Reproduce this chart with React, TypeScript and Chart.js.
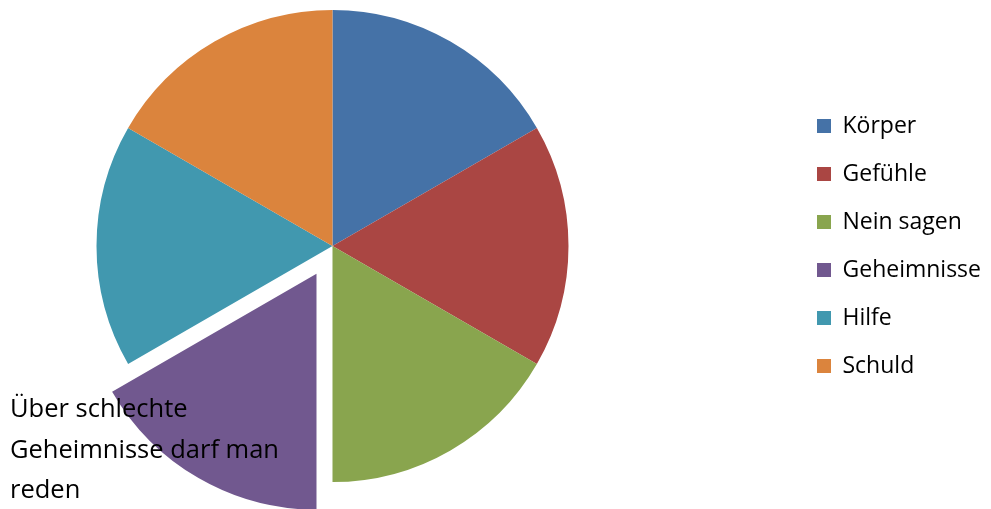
import React, { useEffect, useRef } from 'react';
import { Chart, registerables } from 'chart.js';

Chart.register(...registerables);

const categories = ['Körper', 'Gefühle', 'Nein sagen', 'Geheimnisse', 'Hilfe', 'Schuld'];
const values = [1, 1, 1, 1, 1, 1];
const colors = ['#4572A7', '#AA4643', '#89A54E', '#71588F', '#4198AF', '#DB843D'];
const explodeOffsets = [0, 0, 0, 128, 0, 0];
const dataLabelLines = ['Über schlechte', 'Geheimnisse darf man', 'reden'];

const FONT = '"Open Sans", "Liberation Sans", sans-serif';
// canvas is wider than the page and shifted left, so the pie sits left of centre
const SHIFT = 127;
const W = 991;
const H = 509;

// keep exploded slice at the same radius and angular extent as the others
const explodePlugin = {
  id: 'explodeFix',
  afterDatasetUpdate(chart: any, args: any) {
    const meta = chart.getDatasetMeta(args.index);
    meta.data.forEach((arc: any, i: number) => {
      const o = (explodeOffsets[i] || 0) / 4;
      if (!o) return;
      const fix = 1 - Math.sin(Math.min(Math.PI, arc.circumference || 0));
      const ro = o * fix;
      const R = arc.outerRadius;
      const a = ro / (Math.PI * R) / 2;
      arc.outerRadius = R - ro;
      arc.startAngle -= a;
      arc.endAngle += a;
    });
  },
};

const dataLabelPlugin = {
  id: 'dataLabel',
  afterDatasetsDraw(chart: any) {
    const ctx = chart.ctx;
    ctx.save();
    ctx.font = `25.5px ${FONT}`;
    ctx.fillStyle = '#000000';
    ctx.textAlign = 'left';
    ctx.textBaseline = 'alphabetic';
    dataLabelLines.forEach((line, i) => {
      ctx.fillText(line, SHIFT + 10, 417 + i * 40.5);
    });
    ctx.restore();
  },
};

export default function App() {
  const ref = useRef<HTMLCanvasElement | null>(null);

  useEffect(() => {
    if (!ref.current) return;
    const chart = new Chart(ref.current, {
      type: 'pie',
      data: {
        labels: categories,
        datasets: [
          {
            data: values,
            backgroundColor: colors,
            borderWidth: 0,
            offset: explodeOffsets,
            hoverOffset: 0,
            clip: false,
          } as any,
        ],
      },
      options: {
        responsive: false,
        animation: false,
        events: [],
        devicePixelRatio: 1,
        radius: 236,
        layout: { padding: { left: 0, right: 0, top: 0, bottom: 17 } },
        plugins: {
          tooltip: { enabled: false },
          legend: {
            position: 'right',
            labels: {
              boxWidth: 14,
              boxHeight: 14,
              padding: 25,
              color: '#000000',
              font: { family: FONT, size: 23 },
            },
          },
        },
      } as any,
      plugins: [explodePlugin, dataLabelPlugin],
    });
    return () => chart.destroy();
  }, []);

  return (
    <div style={{ position: 'absolute', left: 0, top: 0, width: W, height: H, overflow: 'hidden', background: '#fff' }}>
      <canvas
        ref={ref}
        width={W + SHIFT}
        height={H}
        style={{ display: 'block', position: 'absolute', left: -SHIFT, top: 0 }}
      />
    </div>
  );
}
